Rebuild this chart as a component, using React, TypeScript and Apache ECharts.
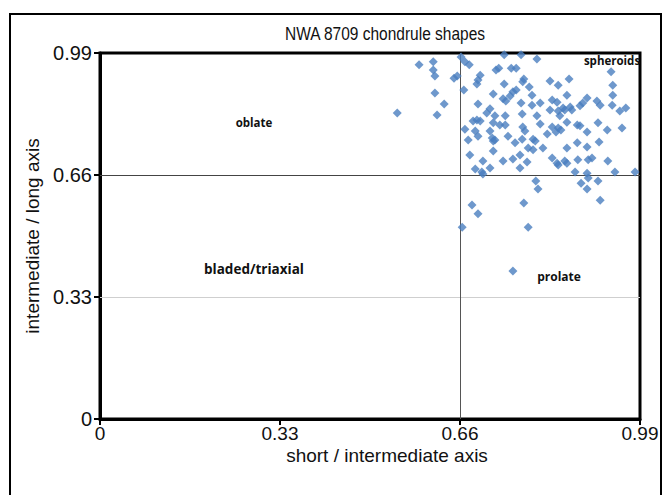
import React, { useEffect, useRef } from 'react';
import * as echarts from 'echarts';

const chartTitle = 'NWA 8709 chondrule shapes';
const xAxisName = 'short / intermediate axis';
const yAxisName = 'intermediate / long axis';
const tickValues = [0, 0.33, 0.66, 0.99];
const guideValues = [0.33, 0.66];
const regionLabels = ['oblate', 'spheroids', 'bladed/triaxial', 'prolate'];

// short/intermediate ratio of each chondrule
const xValues = [
  0.545, 0.585, 0.611, 0.611, 0.614, 0.649, 0.655, 0.614, 0.631, 0.618,
  0.662, 0.669, 0.677, 0.667, 0.669, 0.664,
  0.741, 0.772, 0.801, 0.726, 0.731, 0.754, 0.763, 0.697, 0.693, 0.691,
  0.777, 0.775, 0.741, 0.787, 0.763, 0.757, 0.721, 0.752, 0.792, 0.739,
  0.744, 0.693, 0.772, 0.792, 0.807, 0.715,
  0.937, 0.940, 0.940, 0.860, 0.825, 0.840, 0.856, 0.829, 0.838, 0.893,
  0.885, 0.880, 0.911, 0.917, 0.939, 0.849, 0.862, 0.964,
  0.709, 0.724, 0.743, 0.774, 0.801, 0.691, 0.697, 0.684, 0.721, 0.733,
  0.743, 0.775, 0.807, 0.688, 0.715, 0.779, 0.675, 0.693, 0.719, 0.721,
  0.724, 0.748, 0.774, 0.794, 0.798, 0.761, 0.785, 0.794, 0.812, 0.721,
  0.678, 0.770, 0.757, 0.783, 0.702, 0.739, 0.715, 0.688, 0.770,
  0.825, 0.840, 0.852, 0.865, 0.953, 0.843, 0.856, 0.829, 0.840, 0.836,
  0.845, 0.875, 0.880, 0.913, 0.893, 0.930, 0.957, 0.820, 0.875, 0.915,
  0.856, 0.893, 0.829, 0.838, 0.852, 0.876, 0.895, 0.902, 0.931, 0.840,
  0.856, 0.871, 0.893, 0.895, 0.944, 0.981, 0.882, 0.913, 0.893, 0.917,
  0.799, 0.803, 0.777, 0.682, 0.693, 0.785, 0.757, 0.700, 0.702,
];

// intermediate/long ratio of each chondrule
const yValues = [
  0.828, 0.958, 0.966, 0.944, 0.928, 0.922, 0.928, 0.882, 0.852, 0.822,
  0.979, 0.966, 0.958, 0.890, 0.784, 0.519,
  0.985, 0.985, 0.974, 0.944, 0.949, 0.949, 0.949, 0.930, 0.917, 0.906,
  0.920, 0.912, 0.906, 0.898, 0.890, 0.885, 0.879, 0.874, 0.876, 0.866,
  0.860, 0.852, 0.855, 0.849, 0.855, 0.839,
  0.939, 0.903, 0.876, 0.920, 0.914, 0.903, 0.876, 0.863, 0.857, 0.868,
  0.855, 0.847, 0.860, 0.849, 0.849, 0.841, 0.844, 0.841,
  0.828, 0.820, 0.820, 0.825, 0.820, 0.809, 0.806, 0.806, 0.801, 0.795,
  0.795, 0.790, 0.798, 0.779, 0.779, 0.779, 0.755, 0.765, 0.760, 0.752,
  0.755, 0.765, 0.757, 0.757, 0.752, 0.747, 0.733, 0.728, 0.733, 0.725,
  0.714, 0.714, 0.703, 0.695, 0.698, 0.698, 0.679, 0.676, 0.679,
  0.836, 0.833, 0.836, 0.836, 0.833, 0.820, 0.803, 0.790, 0.787, 0.776,
  0.782, 0.795, 0.793, 0.801, 0.776, 0.782, 0.787, 0.771, 0.747, 0.749,
  0.733, 0.736, 0.706, 0.692, 0.698, 0.701, 0.701, 0.706, 0.698, 0.687,
  0.692, 0.668, 0.665, 0.652, 0.668, 0.668, 0.638, 0.644, 0.622, 0.592,
  0.644, 0.622, 0.584, 0.579, 0.555, 0.519, 0.400, 0.668, 0.663,
];

const FONT = '"Liberation Sans", Arial, sans-serif';
const LABEL_FONT = '"Open Sans", "Noto Sans", sans-serif';

const fmt = (v: number) => {
  const nearest = tickValues.reduce((a, b) => (Math.abs(b - v) < Math.abs(a - v) ? b : a));
  return nearest === 0 ? '0' : nearest.toFixed(2);
};

export default function App() {
  const ref = useRef<HTMLDivElement>(null);

  useEffect(() => {
    if (!ref.current) return;
    const chart = echarts.init(ref.current, undefined, { renderer: 'svg' });
    const points = xValues.map((x, i) => [x, yValues[i]]);

    const labelStyle = (size: number) => ({
      fontSize: size,
      fontWeight: 700 as any,
      fontFamily: LABEL_FONT,
      fill: '#111',
      textAlign: 'center' as const,
      textVerticalAlign: 'middle' as const,
    });

    chart.setOption({
      animation: false,
      backgroundColor: '#fff',
      grid: {
        left: 100,
        top: 53,
        width: 540,
        height: 366,
        show: true,
        borderColor: '#000',
        borderWidth: 3,
        backgroundColor: 'transparent',
      },
      xAxis: {
        type: 'value',
        min: 0,
        max: 0.99,
        interval: 0.33,
        axisLine: { show: true, lineStyle: { color: '#000', width: 3 } },
        axisTick: { show: true, length: 6, lineStyle: { color: '#000', width: 2 } },
        axisLabel: { fontSize: 19, color: '#111', fontFamily: FONT, margin: 5, lineHeight: 19, formatter: fmt },
        splitLine: { show: false },
      },
      yAxis: {
        type: 'value',
        min: 0,
        max: 0.99,
        interval: 0.33,
        name: yAxisName,
        nameLocation: 'middle',
        nameGap: 48,
        nameTextStyle: { fontSize: 19, color: '#111', fontFamily: FONT },
        axisLine: { show: true, lineStyle: { color: '#000', width: 3 } },
        axisTick: { show: true, length: 6, lineStyle: { color: '#000', width: 2 } },
        axisLabel: { fontSize: 20, color: '#111', fontFamily: FONT, margin: 8, formatter: fmt },
        splitLine: { show: false },
      },
      series: [
        {
          type: 'scatter',
          data: points,
          symbol: 'diamond',
          symbolSize: 9,
          itemStyle: { color: '#4a7ebf' },
          z: 3,
          markLine: {
            silent: true,
            symbol: 'none',
            label: { show: false },
            z: 1,
            data: [
              { yAxis: guideValues[1], lineStyle: { color: '#444', width: 1, type: 'solid' } },
              { yAxis: guideValues[0], lineStyle: { color: '#cfcfcf', width: 1, type: 'solid' } },
              { xAxis: guideValues[1], lineStyle: { color: '#555', width: 1, type: 'solid' } },
            ],
          },
        },
      ],
      graphic: [
        {
          type: 'rect',
          shape: { x: 10, y: 14, width: 651, height: 520 },
          style: { fill: 'none', stroke: '#000', lineWidth: 2 },
          silent: true,
        },
        {
          type: 'text',
          x: 385,
          y: 34,
          scaleY: 1.15,
          style: {
            text: chartTitle,
            fontSize: 15.5,
            fontFamily: FONT,
            fill: '#111',
            textAlign: 'center',
            textVerticalAlign: 'middle',
          },
        },
        {
          type: 'text',
          x: 387,
          y: 455,
          style: {
            text: xAxisName,
            fontSize: 19,
            lineHeight: 19,
            fontFamily: FONT,
            fill: '#111',
            textAlign: 'center',
            textVerticalAlign: 'middle',
          },
        },
        { type: 'text', x: 254, y: 122, style: { text: regionLabels[0], ...labelStyle(11.5) } },
        { type: 'text', x: 612, y: 60, style: { text: regionLabels[1], ...labelStyle(11.5) } },
        { type: 'text', x: 254, y: 269, style: { text: regionLabels[2], ...labelStyle(13.5) } },
        { type: 'text', x: 559, y: 276, style: { text: regionLabels[3], ...labelStyle(12) } },
      ],
    });

    return () => chart.dispose();
  }, []);

  return (
    <div
      ref={ref}
      style={{ position: 'fixed', left: 0, top: 0, width: 664, height: 495, background: '#fff' }}
    />
  );
}
